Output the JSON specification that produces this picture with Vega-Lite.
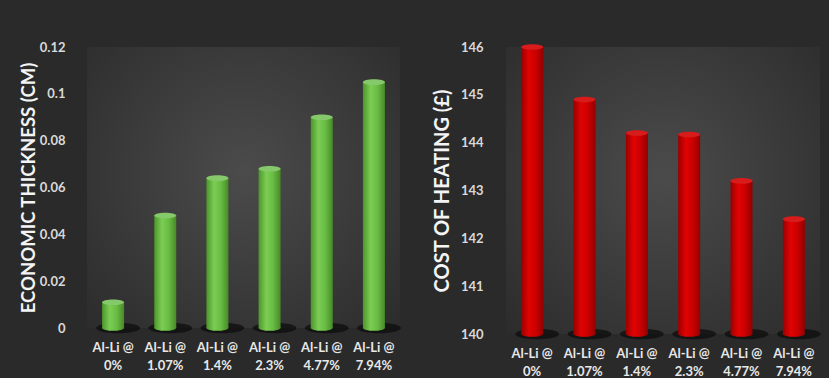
{
  "$schema": "https://vega.github.io/schema/vega-lite/v6.json",
  "background": "#2a2a2a",
  "padding": {"left": 19, "top": 41, "right": 8, "bottom": 0},
  "spacing": 31,
  "config": {
    "font": "Lato",
    "view": {"stroke": null},
    "axis": {
      "domain": false,
      "ticks": false,
      "grid": false,
      "labelFont": "Lato",
      "labelFontWeight": "bold",
      "labelFontSize": 13,
      "labelColor": "#d9d9d9",
      "titleFont": "Lato",
      "titleFontWeight": "bold",
      "titleFontSize": 20,
      "titleColor": "#f4f4f4"
    }
  },
  "data": {
    "values": [
      {"cat": "Al-Li @ 0%", "thickness": 0.011, "cost": 146.0},
      {"cat": "Al-Li @ 1.07%", "thickness": 0.048, "cost": 144.9},
      {"cat": "Al-Li @ 1.4%", "thickness": 0.064, "cost": 144.2},
      {"cat": "Al-Li @ 2.3%", "thickness": 0.068, "cost": 144.17},
      {"cat": "Al-Li @ 4.77%", "thickness": 0.09, "cost": 143.2},
      {"cat": "Al-Li @ 7.94%", "thickness": 0.105, "cost": 142.4}
    ]
  },
  "hconcat": [
    {
      "width": 313,
      "height": 281,
      "view": {
        "stroke": null,
        "fill": {
          "gradient": "radial",
          "x1": 0.5, "y1": 0.45, "x2": 0.5, "y2": 0.45, "r1": 0, "r2": 0.75,
          "stops": [
            {"offset": 0, "color": "#4b4b4b"},
            {"offset": 1, "color": "#2a2a2a"}
          ]
        }
      },
      "encoding": {
        "x": {
          "field": "cat",
          "type": "nominal",
          "sort": null,
          "scale": {"paddingInner": 0, "paddingOuter": 0},
          "axis": {
            "title": null,
            "labelAngle": 0,
            "labelPadding": 13,
            "labelColor": "#e8e8e8",
            "labelLineHeight": 18,
            "labelBaseline": "top",
            "labelExpr": "[slice(datum.label, 0, 7), slice(datum.label, 8)]"
          }
        }
      },
      "layer": [
        {
          "mark": {
            "type": "point",
            "filled": true,
            "shape": "M-1,0A1,0.24,0,1,0,1,0A1,0.24,0,1,0,-1,0Z",
            "size": 1936,
            "color": "#0d0d0d",
            "opacity": 0.75,
            "xOffset": 5
          },
          "encoding": {
            "y": {
              "datum": 0,
              "type": "quantitative",
              "scale": {"domain": [0, 0.12]},
              "axis": {
                "title": "ECONOMIC THICKNESS (CM)",
                "values": [0, 0.02, 0.04, 0.06, 0.08, 0.1, 0.12],
                "format": ".2~f",
                "labelPadding": 22,
                "titlePadding": 1,
                "titleFontSize": 18.5
              }
            }
          }
        },
        {
          "mark": {
            "type": "point",
            "filled": true,
            "opacity": 1,
            "shape": "M-1,0A1,0.26,0,1,0,1,0A1,0.26,0,1,0,-1,0Z",
            "size": 484,
            "color": {
              "gradient": "linear", "x1": 0, "x2": 1, "y1": 0, "y2": 0,
              "stops": [
                {"offset": 0, "color": "#4c962c"},
                {"offset": 0.35, "color": "#7bcd54"},
                {"offset": 0.65, "color": "#6abd44"},
                {"offset": 1, "color": "#478a29"}
              ]
            }
          },
          "encoding": {
            "y": {
              "datum": 0,
              "type": "quantitative",
              "scale": {"domain": [0, 0.12]},
              "axis": {
                "title": "ECONOMIC THICKNESS (CM)",
                "values": [0, 0.02, 0.04, 0.06, 0.08, 0.1, 0.12],
                "format": ".2~f",
                "labelPadding": 22,
                "titlePadding": 1,
                "titleFontSize": 18.5
              }
            }
          }
        },
        {
          "mark": {
            "type": "bar",
            "width": 22,
            "color": {
              "gradient": "linear", "x1": 0, "x2": 1, "y1": 0, "y2": 0,
              "stops": [
                {"offset": 0, "color": "#4c962c"},
                {"offset": 0.35, "color": "#7bcd54"},
                {"offset": 0.65, "color": "#6abd44"},
                {"offset": 1, "color": "#478a29"}
              ]
            }
          },
          "encoding": {
            "y": {
              "field": "thickness",
              "type": "quantitative",
              "scale": {"domain": [0, 0.12]},
              "axis": {
                "title": "ECONOMIC THICKNESS (CM)",
                "values": [0, 0.02, 0.04, 0.06, 0.08, 0.1, 0.12],
                "format": ".2~f",
                "labelPadding": 22,
                "titlePadding": 1,
                "titleFontSize": 18.5
              }
            },
            "y2": {"datum": 0}
          }
        },
        {
          "mark": {
            "type": "point",
            "filled": true,
            "opacity": 1,
            "shape": "M-1,0A1,0.26,0,1,0,1,0A1,0.26,0,1,0,-1,0Z",
            "size": 484,
            "color": "#86c96a"
          },
          "encoding": {
            "y": {
              "field": "thickness",
              "type": "quantitative",
              "scale": {"domain": [0, 0.12]},
              "axis": {
                "title": "ECONOMIC THICKNESS (CM)",
                "values": [0, 0.02, 0.04, 0.06, 0.08, 0.1, 0.12],
                "format": ".2~f",
                "labelPadding": 22,
                "titlePadding": 1,
                "titleFontSize": 18.5
              }
            }
          }
        }
      ]
    },
    {
      "width": 314,
      "height": 287,
      "view": {
        "stroke": null,
        "fill": {
          "gradient": "radial",
          "x1": 0.5, "y1": 0.45, "x2": 0.5, "y2": 0.45, "r1": 0, "r2": 0.75,
          "stops": [
            {"offset": 0, "color": "#4b4b4b"},
            {"offset": 1, "color": "#2a2a2a"}
          ]
        }
      },
      "encoding": {
        "x": {
          "field": "cat",
          "type": "nominal",
          "sort": null,
          "scale": {"paddingInner": 0, "paddingOuter": 0},
          "axis": {
            "title": null,
            "labelAngle": 0,
            "labelPadding": 13,
            "labelColor": "#e8e8e8",
            "labelLineHeight": 18,
            "labelBaseline": "top",
            "labelExpr": "[slice(datum.label, 0, 7), slice(datum.label, 8)]"
          }
        }
      },
      "layer": [
        {
          "mark": {
            "type": "point",
            "filled": true,
            "shape": "M-1,0A1,0.24,0,1,0,1,0A1,0.24,0,1,0,-1,0Z",
            "size": 1936,
            "color": "#0d0d0d",
            "opacity": 0.75,
            "xOffset": 5
          },
          "encoding": {
            "y": {
              "datum": 140,
              "type": "quantitative",
              "scale": {"domain": [140, 146], "zero": false},
              "axis": {
                "title": "COST OF HEATING (£)",
                "values": [140, 141, 142, 143, 144, 145, 146],
                "format": "d",
                "labelPadding": 23,
                "titlePadding": 8
              }
            }
          }
        },
        {
          "mark": {
            "type": "point",
            "filled": true,
            "opacity": 1,
            "shape": "M-1,0A1,0.26,0,1,0,1,0A1,0.26,0,1,0,-1,0Z",
            "size": 484,
            "color": {
              "gradient": "linear", "x1": 0, "x2": 1, "y1": 0, "y2": 0,
              "stops": [
                {"offset": 0, "color": "#9a0000"},
                {"offset": 0.35, "color": "#e00303"},
                {"offset": 0.65, "color": "#cc0000"},
                {"offset": 1, "color": "#920000"}
              ]
            }
          },
          "encoding": {
            "y": {
              "datum": 140,
              "type": "quantitative",
              "scale": {"domain": [140, 146], "zero": false},
              "axis": {
                "title": "COST OF HEATING (£)",
                "values": [140, 141, 142, 143, 144, 145, 146],
                "format": "d",
                "labelPadding": 23,
                "titlePadding": 8
              }
            }
          }
        },
        {
          "mark": {
            "type": "bar",
            "width": 22,
            "color": {
              "gradient": "linear", "x1": 0, "x2": 1, "y1": 0, "y2": 0,
              "stops": [
                {"offset": 0, "color": "#9a0000"},
                {"offset": 0.35, "color": "#e00303"},
                {"offset": 0.65, "color": "#cc0000"},
                {"offset": 1, "color": "#920000"}
              ]
            }
          },
          "encoding": {
            "y": {
              "field": "cost",
              "type": "quantitative",
              "scale": {"domain": [140, 146], "zero": false},
              "axis": {
                "title": "COST OF HEATING (£)",
                "values": [140, 141, 142, 143, 144, 145, 146],
                "format": "d",
                "labelPadding": 23,
                "titlePadding": 8
              }
            },
            "y2": {"datum": 140}
          }
        },
        {
          "mark": {
            "type": "point",
            "filled": true,
            "opacity": 1,
            "shape": "M-1,0A1,0.26,0,1,0,1,0A1,0.26,0,1,0,-1,0Z",
            "size": 484,
            "color": "#d81b1b"
          },
          "encoding": {
            "y": {
              "field": "cost",
              "type": "quantitative",
              "scale": {"domain": [140, 146], "zero": false},
              "axis": {
                "title": "COST OF HEATING (£)",
                "values": [140, 141, 142, 143, 144, 145, 146],
                "format": "d",
                "labelPadding": 23,
                "titlePadding": 8
              }
            }
          }
        }
      ]
    }
  ]
}
